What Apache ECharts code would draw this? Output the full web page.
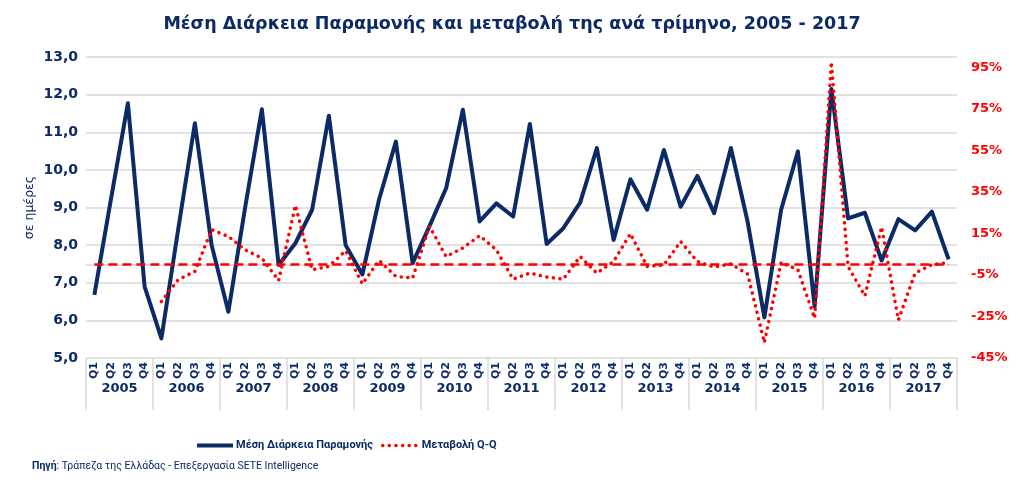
<!DOCTYPE html>
<html>
<head>
<meta charset="utf-8">
<script src="https://cdn.jsdelivr.net/npm/echarts@6/dist/echarts.min.js"></script>
<style>
html,body{margin:0;padding:0;background:#fff;}
#c{width:1024px;height:489px;}
</style>
</head>
<body>
<div id="c"></div>
<script>
var years = ['2005','2006','2007','2008','2009','2010','2011','2012','2013','2014','2015','2016','2017'];
var quarters = ['Q1','Q2','Q3','Q4'];
var avgStay = [
  6.68, 9.25, 11.77, 6.90,
  5.52, 8.41, 11.24, 8.00,
  6.23, 9.00, 11.61, 7.47,
  8.05, 8.94, 11.44, 8.00,
  7.22, 9.22, 10.75, 7.52,
  8.50, 9.51, 11.60, 8.63,
  9.11, 8.76, 11.22, 8.03,
  8.45, 9.13, 10.58, 8.14,
  9.75, 8.94, 10.53, 9.02,
  9.84, 8.85, 10.58, 8.62,
  6.08, 8.94, 10.49, 6.36,
  12.15, 8.71, 8.86, 7.59,
  8.69, 8.39, 8.89, 7.62
];
var changeQQ = [
  null, null, null, null,
  -17.8, -7.3, -3.3, 16.8,
  13.6, 7.1, 3.1, -7.7,
  28.5, -2.5, -0.9, 6.7,
  -9.3, 2.0, -5.7, -6.5,
  18.5, 3.9, 8.0, 13.9,
  7.1, -7.0, -4.1, -6.0,
  -7.0, 3.9, -4.1, 1.5,
  14.9, -0.9, -0.2, 11.1,
  1.5, -1.2, 0.3, -4.6,
  -37.6, 1.0, -2.5, -25.8,
  97.6, -1.0, -15.1, 18.1,
  -26.7, -4.1, 0.0, 1.0
];
var leftTicks = [5, 6, 7, 8, 9, 10, 11, 12, 13];
var rightTicks = [-45, -25, -5, 15, 35, 55, 75, 95];
var titleText = 'Μέση Διάρκεια Παραμονής και μεταβολή της ανά τρίμηνο, 2005 - 2017';
var seriesNames = ['Μέση Διάρκεια Παραμονής', 'Μεταβολή Q-Q'];
var yAxisName = 'σε ημέρες';

var categories = [];
years.forEach(function(y){ quarters.forEach(function(q){ categories.push(q); }); });

var NAVY = '#0b2a66';
var RED = '#ff0000';
var chart = echarts.init(document.getElementById('c'));
chart.setOption({
  animation: false,
  backgroundColor: '#ffffff',
  title: {
    text: titleText,
    left: 'center',
    top: 10,
    textStyle: {fontFamily: 'DejaVu Sans', fontWeight: 'bold', fontSize: 17.5, color: NAVY}
  },
  legend: {
    data: [
      {name: seriesNames[0], itemStyle: {opacity: 0}, lineStyle: {width: 4}},
      {name: seriesNames[1], itemStyle: {opacity: 0}, lineStyle: {width: 3.5}}
    ],
    left: 195,
    top: 440,
    padding: 0,
    itemWidth: 36,
    itemHeight: 10,
    itemGap: 8,
    textStyle: {fontFamily: 'Roboto', fontWeight: 'bold', fontSize: 11, color: NAVY, padding: [0,0,0,-2]}
  },
  graphic: [{
    type: 'text',
    left: 32,
    top: 461,
    style: {
      text: '{b|Πηγή}: Τράπεζα της Ελλάδας - Επεξεργασία SETE Intelligence',
      fontFamily: 'Roboto',
      fontSize: 10.5,
      fill: NAVY,
      rich: {b: {fontFamily: 'Roboto', fontWeight: 'bold', fontSize: 10.5, fill: NAVY}}
    }
  }],
  grid: {left: 86, right: 67, top: 57, bottom: 131},
  xAxis: [{
    type: 'category',
    data: categories,
    boundaryGap: true,
    axisLine: {show: true, lineStyle: {color: '#d9d9d9', width: 1.5}},
    axisTick: {show: false},
    axisLabel: {
      interval: 0, rotate: 90, margin: 4,
      fontFamily: 'DejaVu Sans', fontWeight: 'bold', fontSize: 11, color: NAVY
    },
    splitLine: {show: false}
  }, {
    type: 'category',
    data: years,
    position: 'bottom',
    boundaryGap: true,
    axisLine: {show: false},
    axisTick: {show: true, length: 52, lineStyle: {color: '#d9d9d9', width: 1.5}},
    axisLabel: {
      interval: 0, margin: 24,
      fontFamily: 'DejaVu Sans', fontWeight: 'bold', fontSize: 13, color: NAVY
    }
  }],
  yAxis: [{
    type: 'value',
    min: 5, max: 13, interval: 1,
    name: yAxisName,
    nameLocation: 'middle',
    nameGap: 50,
    nameMoveOverlap: false,
    nameTextStyle: {fontFamily: 'DejaVu Sans', fontSize: 12.5, color: NAVY},
    axisLine: {show: false},
    axisTick: {show: false},
    axisLabel: {
      margin: 8,
      fontFamily: 'DejaVu Sans', fontWeight: 'bold', fontSize: 14, color: NAVY,
      customValues: leftTicks,
      formatter: function(v){ return v.toFixed(1).replace('.', ','); }
    },
    splitLine: {show: true, lineStyle: {color: '#d9d9d9', width: 1.5}}
  }, {
    type: 'value',
    min: -45, max: 100,
    position: 'right',
    axisLine: {show: false},
    axisTick: {show: false},
    splitLine: {show: false},
    axisLabel: {
      margin: 14,
      fontFamily: 'DejaVu Sans', fontWeight: 'bold', fontSize: 13, color: RED,
      customValues: rightTicks,
      formatter: function(v){ return Math.round(v) + '%'; }
    }
  }],
  series: [{
    name: seriesNames[0],
    type: 'line',
    xAxisIndex: 0,
    yAxisIndex: 0,
    data: avgStay,
    symbol: 'none',
    lineStyle: {color: NAVY, width: 4, join: 'round'},
    itemStyle: {color: NAVY},
    z: 3
  }, {
    name: seriesNames[1],
    type: 'line',
    xAxisIndex: 0,
    yAxisIndex: 1,
    data: changeQQ,
    symbol: 'none',
    connectNulls: false,
    lineStyle: {color: RED, width: 3.5, type: [0.1, 6.5], cap: 'round'},
    itemStyle: {color: RED},
    z: 4,
    markLine: {
      silent: true,
      symbol: ['none', 'none'],
      label: {show: false},
      lineStyle: {color: RED, width: 2.5, type: [9, 5]},
      data: [[{xAxis: 0, yAxis: 0}, {xAxis: categories.length - 1, yAxis: 0}]]
    }
  }]
});
</script>
</body>
</html>
